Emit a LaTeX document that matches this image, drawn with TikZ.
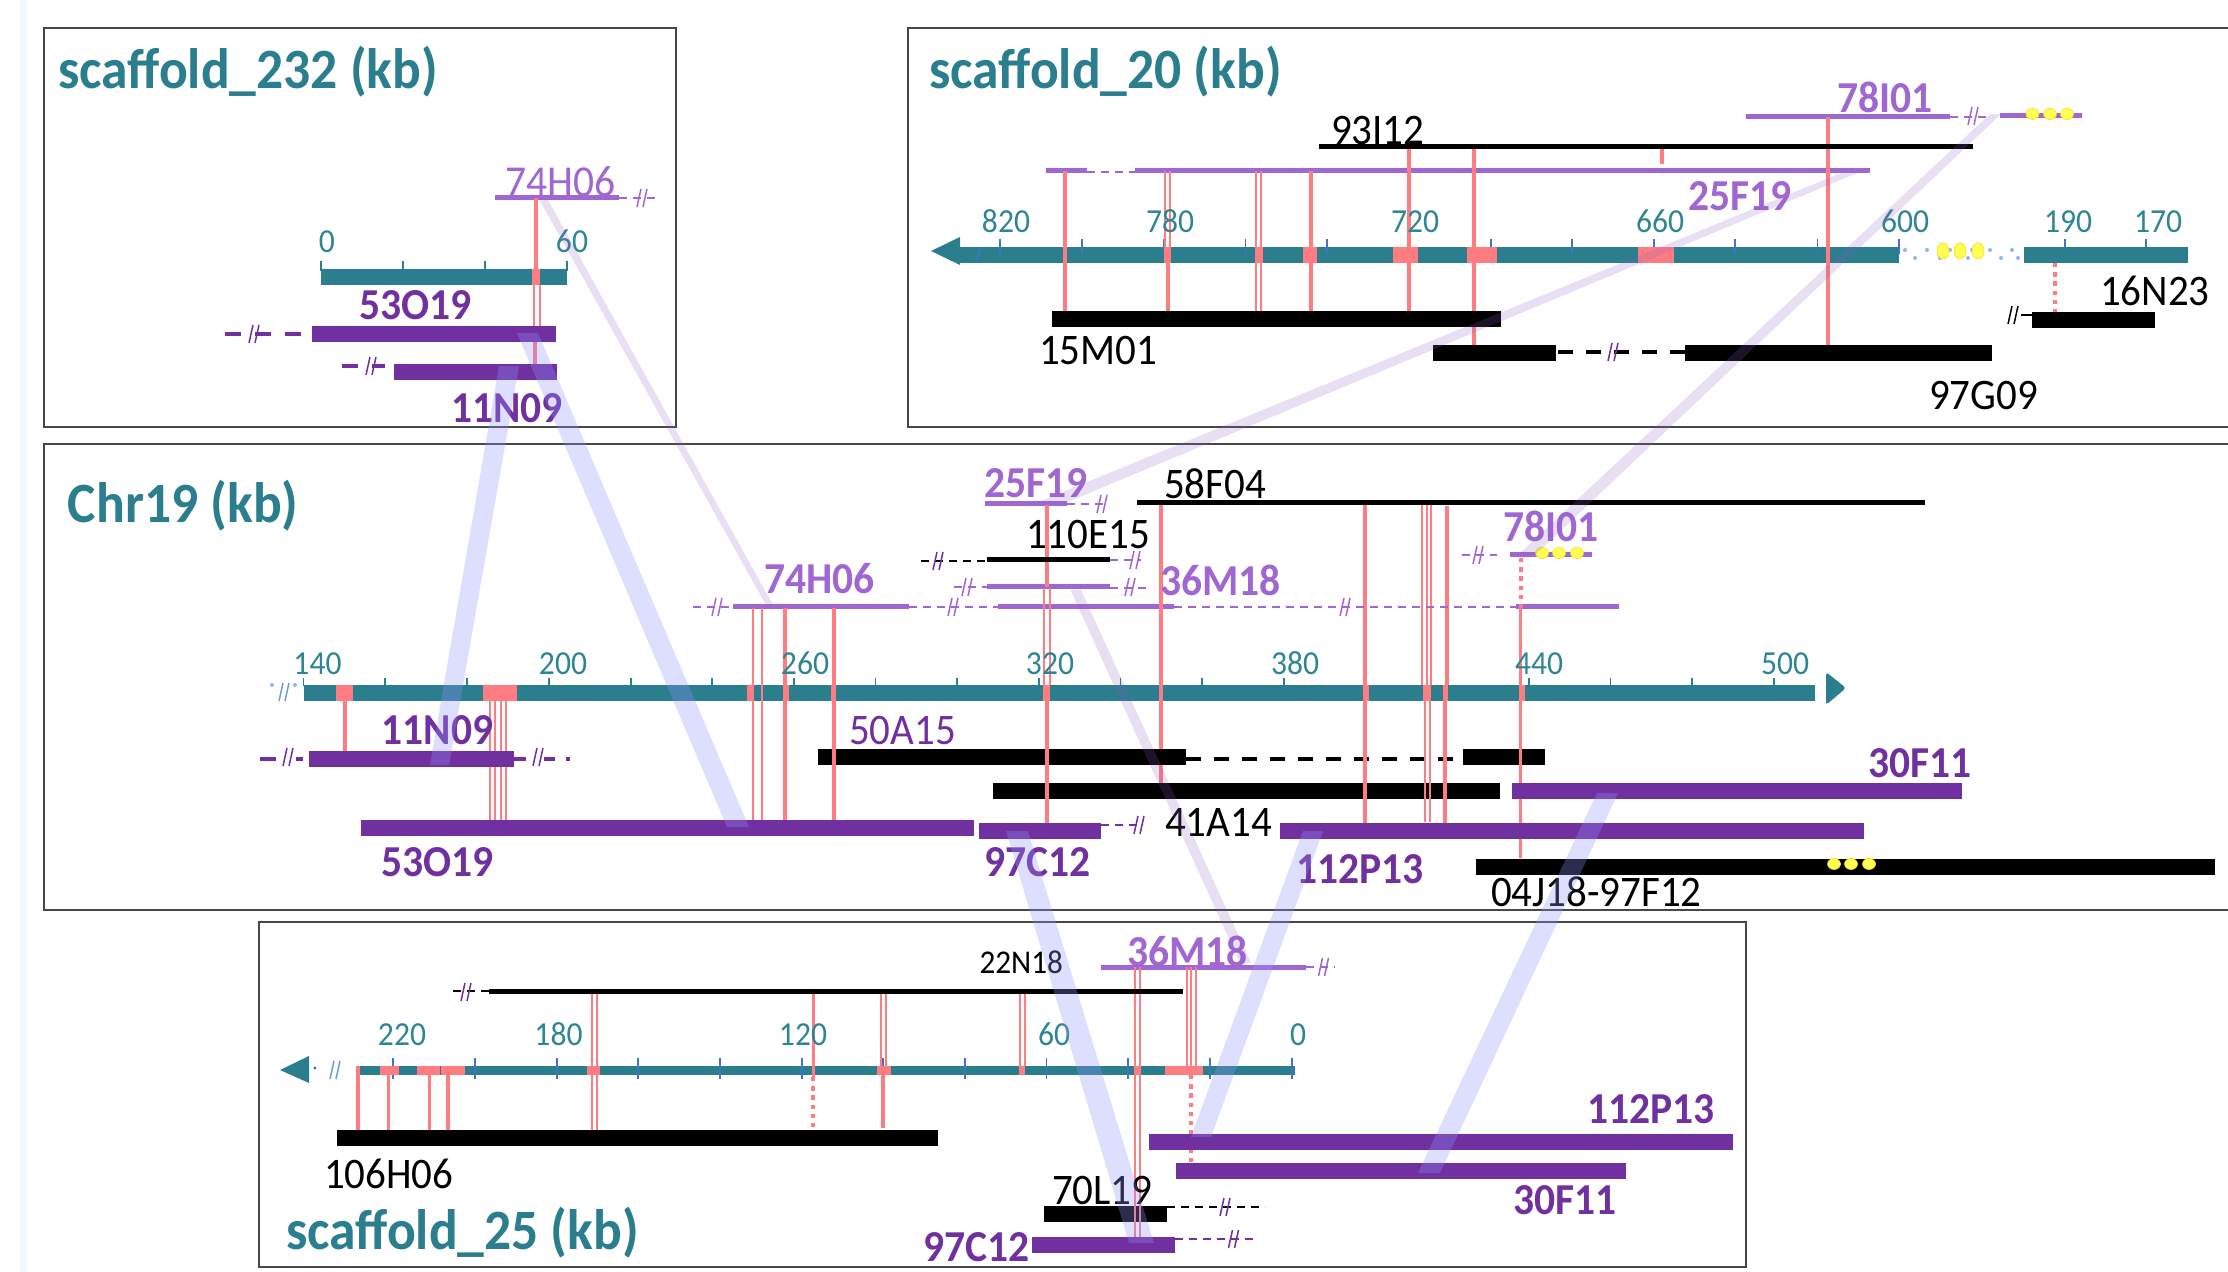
\documentclass[tikz,border=0pt]{standalone}
\usepackage{fontspec}
\setmainfont{Carlito}[FakeStretch=0.94]
\definecolor{teal1}{HTML}{2A7E8E}
\definecolor{tealtxt}{HTML}{2E8593}
\definecolor{redl}{HTML}{FF7C80}
\definecolor{lilac}{HTML}{A066D2}
\definecolor{dpurp}{HTML}{7030A0}
\definecolor{tickb}{HTML}{4472C4}
\definecolor{dotb}{HTML}{8DB8EE}
\definecolor{ribb}{HTML}{9393FF}
\definecolor{ribp}{HTML}{8C5FC3}
\definecolor{yel}{HTML}{FFFF55}
\tikzset{
  x=0.5pt,y=-0.5pt,
  frame/.style={draw=black!72,line width=0.75pt},
  tealbar/.style={fill=teal1},
  blackbar/.style={fill=black},
  purpbar/.style={fill=dpurp},
  redblock/.style={fill=redl},
  redthick/.style={draw=redl,line width=1.9pt},
  redthin/.style={draw=redl,line width=1pt},
  reddot/.style={draw=redl,line width=2pt,dash pattern=on 2.2pt off 2.4pt},
  lilacline/.style={draw=lilac,line width=2.5pt},
  blackline/.style={draw=black,line width=2.5pt},
  lilacdash/.style={draw=lilac,line width=1pt,dash pattern=on 4pt off 3pt},
  purpdash/.style={draw=dpurp,line width=1.1pt,dash pattern=on 4pt off 3pt},
  purpfat/.style={draw=dpurp,line width=2pt,dash pattern=on 8pt off 7pt},
  blackdash/.style={draw=black,line width=1.1pt,dash pattern=on 4pt off 3pt},
  blackfat/.style={draw=black,line width=2pt,dash pattern=on 7.5pt off 6.5pt},
  tealtick/.style={draw=teal1,line width=0.8pt},
  bluetick/.style={draw=tickb,line width=0.8pt},
  yeldot/.style={fill=yel,draw=yellow!80!orange,line width=0.3pt},
  ribbonb/.style={fill=ribb,fill opacity=.3},
  ribbonp/.style={fill=ribp,fill opacity=.2},
  base/.style={inner sep=0pt,outer sep=0pt,anchor=base west,yshift=-1pt},
  title/.style={base,text=teal1,font=\bfseries\fontsize{28.5}{32}\selectfont},
  axisnum/.style={inner sep=0pt,anchor=base,yshift=-.75pt,text=tealtxt,font=\fontsize{16.8}{19}\selectfont},
  blacklab/.style={base,text=black,font=\fontsize{21.8}{25}\selectfont},
  smalllab/.style={base,text=black,font=\fontsize{16.6}{19}\selectfont},
  lilacbold/.style={base,text=lilac,font=\bfseries\fontsize{22.1}{25}\selectfont},
  lilacreg/.style={base,text=lilac,font=\fontsize{22.1}{25}\selectfont},
  purpbold/.style={base,text=dpurp,font=\bfseries\fontsize{22.1}{25}\selectfont},
  purpreg/.style={base,text=dpurp,font=\fontsize{21.8}{25}\selectfont},
}
% break mark: two slanted strokes
\newcommand{\brk}[3]{\draw[#3,line width=.75pt] (#1-5,#2+9)--(#1-1,#2-9) (#1+1,#2+9)--(#1+5,#2-9);}
\newcommand{\ydot}[4]{\draw[yeldot] (#1,#2) ellipse [x radius=#3,y radius=#4];}
\begin{document}
\begin{tikzpicture}
\useasboundingbox (0,0) rectangle (2228,1272);
\fill[white] (0,0) rectangle (2228,1272);
\fill[blue!30!cyan!6] (20,0) rectangle (27,1272);
% frames
\draw[frame] (44,28) rectangle (676,427);
\draw[frame] (2228,28)--(908,28)--(908,427)--(2228,427);
\draw[frame] (2228,444)--(44,444)--(44,910)--(2228,910);
\draw[frame] (259,922) rectangle (1746,1267);

% ---------------- teal axes
\fill[tealbar] (321,269) rectangle (567,285);
\fill[tealbar] (960,247) rectangle (1899,263);
\fill[tealbar] (2024,247) rectangle (2188,263);
\fill[tealbar] (931,251)--(960,237)--(960,265)--cycle;
\fill[tealbar] (303.5,685) rectangle (1815,701);
\fill[tealbar,rounded corners=1.5pt] (1826,672)--(1846,688)--(1826,705)--cycle;
\fill[tealbar] (356,1066) rectangle (1295,1075);
\fill[tealbar] (280,1070)--(309,1056)--(309,1083)--cycle;
% ticks
\foreach \x in {321,403,485,567} {\draw[tealtick] (\x,261)--(\x,271);}
\foreach \x in {1000,1082,1164,1245.5,1327,1409,1491,1572,1654,1735,1817.5,1899} {\draw[bluetick] (\x,239)--(\x,254);}
\foreach \x in {2065,2146} {\draw[bluetick] (\x,239)--(\x,247);}
\foreach \x in {303.5,385,467,549,631,712,794,875.5,957,1039,1120.5,1202,1284,1366,1447,1529,1610.5,1692,1774} {\draw[tealtick] (\x,678)--(\x,686);}
\foreach \x in {393,475,557,638,720,802,883,965,1046.5,1128,1210,1292} {\draw[bluetick] (\x,1058)--(\x,1079);}
\draw[bluetick] (976,262)--(981,247);
% break marks on axes
\brk{284}{692}{dotb!60!tickb}
\fill[dotb] (272,685) circle (1pt) (295,685) circle (1pt);
\brk{335}{1070}{dotb!60!tickb}
\fill[teal1] (315,1068) circle (.8pt);
\foreach \x/\y in {1905/250,1915/258,1927/250,1940/258,1950/250,1968/258,1972/250,1990/250,2001/258,2012/250,2018/258}
  {\fill[dotb] (\x,\y) circle (1pt);}

% ---------------- red blocks
\foreach \a/\b in {532/540} {\fill[redblock] (\a,269) rectangle (\b,285);}
\foreach \a/\b in {1164/1171,1255/1263,1303/1317,1393/1418,1467/1497,1638/1674} {\fill[redblock] (\a,247) rectangle (\b,263);}
\foreach \a/\b in {335.5/352.5,483/517,746.5/754,784/789,831/836,1043/1049.5,1159/1163,1363/1369,1423/1431,1444/1448,1519/1525} {\fill[redblock] (\a,685) rectangle (\b,701);}
\foreach \a/\b in {380/399,416.5/440,441/465,587/599.5,877/891,1019/1024.5,1134/1141,1165/1203} {\fill[redblock] (\a,1066) rectangle (\b,1075);}

% ---------------- thick black bars
\fill[blackbar] (1052,311) rectangle (1501,327);
\fill[blackbar] (1433,345) rectangle (1556,361);
\fill[blackbar] (1685,345) rectangle (1992,361);
\fill[blackbar] (2032,312) rectangle (2155,328);
\fill[blackbar] (818,749) rectangle (1186,765);
\fill[blackbar] (1463,749) rectangle (1545,765);
\fill[blackbar] (993,783) rectangle (1500,799);
\fill[blackbar] (1476,859) rectangle (2215,875);
\fill[blackbar] (337,1130) rectangle (937.5,1146);
\fill[blackbar] (1044,1206) rectangle (1167,1222);
\draw[blackfat] (1558,352)--(1685,352);
\draw[blackfat] (1186,759)--(1454,759);
\draw[black,line width=1pt] (2021,315)--(2032,315);
\brk{2013}{315}{black}
\brk{1613}{352}{dpurp}

% ---------------- lilac lines
\draw[lilacline] (495,198)--(619,198);
\draw[lilacline] (1046,171)--(1087,171);
\draw[lilacline] (1135,171)--(1870,171);
\draw[lilacline] (1746,117)--(1950,117);
\draw[lilacline] (2000,116)--(2082,116);
\draw[lilacline] (985,504)--(1066.5,504);
\draw[lilacline] (987,587)--(1110,587);
\draw[lilacline] (733,607)--(909,607);
\draw[lilacline] (998,607)--(1174,607);
\draw[lilacline] (1516,607)--(1619,607);
\draw[lilacline] (1510,555)--(1592,555);
\draw[lilacline] (1101,967)--(1306,967);

% ---------------- red connectors, scaffold_232
\draw[redthick] (536,198)--(536,270);
\draw[redthin] (534,285)--(534,326) (539.5,285)--(539.5,326);
\draw[redthick] (535,342)--(535,364);
% scaffold_20
\draw[redthick] (1065,171)--(1065,311);
\draw[redthin] (1165,171)--(1165,247) (1170,171)--(1170,247);
\draw[redthick] (1168,263)--(1168,311);
\draw[redthin] (1256,171)--(1256,311) (1261,171)--(1261,311);
\draw[redthick] (1311,171)--(1311,311);
\draw[redthick] (1409,147)--(1409,311);
\draw[redthick] (1474,147)--(1474,311) (1474,327)--(1474,345);
\draw[redthick] (1828,117)--(1828,345);
\draw[redthick] (1662,147)--(1662,164);
\draw[reddot] (2055,263)--(2055,312);
% Chr19
\draw[redthick] (345,701)--(345,751);
\draw[redthin] (490,701)--(490,822) (495,701)--(495,822) (501,701)--(501,822) (506,701)--(506,822);
\draw[redthin] (753,608)--(753,820) (761.5,608)--(761.5,820);
\draw[redthick] (785,608)--(785,820);
\draw[redthick] (834,608)--(834,820);
\draw[redthick] (1047,505)--(1047,587) (1047,701)--(1047,823);
\draw[redthin] (1044,588)--(1044,685) (1050,588)--(1050,685);
\draw[redthick] (1161,505)--(1161,749) (1161,765)--(1161,783);
\draw[redthick] (1365,505)--(1365,823);
\draw[redthin] (1422,503)--(1422,685) (1427,503)--(1427,685) (1431,503)--(1431,685);
\draw[redthin] (1424.5,701)--(1424.5,822) (1429.5,701)--(1429.5,822);
\draw[redthick] (1447,506)--(1447,685) (1445,685)--(1445,823);
\draw[redthick] (1520.5,607)--(1520.5,858);
\draw[reddot] (1520.5,558)--(1520.5,607);
% scaffold_25
\draw[redthick] (358,1066)--(358,1130);
\draw[redthick] (388.4,1075)--(388.4,1130);
\draw[redthick] (429.5,1075)--(429.5,1130);
\draw[redthick] (448,1075)--(448,1130);
\draw[redthin] (592.4,991)--(592.4,1130) (597.3,991)--(597.3,1130);
\draw[redthick] (813.4,991)--(813.4,1077);
\draw[reddot] (813.4,1077)--(813.4,1130);
\draw[redthin] (881,991)--(881,1066) (886,991)--(886,1066);
\draw[redthick] (883,1075)--(883,1128);
\draw[redthin] (1020,991)--(1020,1066) (1024.5,991)--(1024.5,1066);
\draw[redthin] (1135,967)--(1135,1237) (1140,967)--(1140,1237);
\draw[redthin] (1187,967)--(1187,1066) (1191,967)--(1191,1066) (1196,967)--(1196,1066);
\draw[reddot] (1191,1075)--(1191,1163);

% ---------------- thin black lines
\draw[blackline] (1319,147)--(1973,147);
\draw[blackline] (1137,503)--(1925,503);
\draw[blackline] (987,560)--(1110,560);
\draw[blackline] (489,991)--(1183,991);

% ---------------- dark purple bars
\fill[purpbar] (312,326) rectangle (556,342);
\fill[purpbar] (394,364) rectangle (557,380);
\fill[purpbar] (309,751) rectangle (514,767);
\fill[purpbar] (1512,783) rectangle (1962,799);
\fill[purpbar] (361,820) rectangle (974,836);
\fill[purpbar] (979,823) rectangle (1101,839);
\fill[purpbar] (1280,823) rectangle (1864,839);
\fill[purpbar] (1149,1134) rectangle (1733,1150);
\fill[purpbar] (1176,1163) rectangle (1626,1179);
\fill[purpbar] (1032,1237) rectangle (1175,1253);

% ---------------- dashed continuations with break marks
\draw[lilacdash] (619,198)--(659,198); \brk{642}{198}{lilac}
\draw[purpfat] (225,334)--(312,334); \brk{254}{334}{dpurp}
\draw[purpfat] (342,366)--(385,366); \brk{371}{366}{dpurp}
\draw[lilacdash,line width=1.4pt] (1087,172)--(1135,172);
\draw[lilacdash] (1950,117)--(1992,117); \brk{1973}{116}{lilac}
\draw[lilacdash] (1066.5,504)--(1107,504); \brk{1102}{504}{lilac}
\draw[blackdash] (921,561)--(987,561); \brk{938}{561}{dpurp}
\draw[lilacdash] (1110,560)--(1141,560); \brk{1135}{560}{lilac}
\draw[lilacdash] (954,587)--(987,587); \brk{967}{587}{lilac}
\draw[lilacdash] (1110,588)--(1150,588); \brk{1130}{587}{lilac}
\draw[lilacdash] (693,607)--(733,607); \brk{717}{607}{lilac}
\draw[lilacdash] (909,607)--(998,607); \brk{953}{607}{lilac}
\draw[lilacdash] (1174,607)--(1516,607); \brk{1345}{607}{lilac}
\draw[lilacdash] (1462,555)--(1497,555); \brk{1478}{555}{lilac}
\draw[purpfat] (260,759)--(276,759) (296,759)--(303,759); \brk{288}{757}{dpurp}
\draw[purpfat] (514,759)--(526,759) (544,759)--(555,759) (566,759)--(570,759); \brk{538}{757}{dpurp}
\draw[purpdash] (1101,825)--(1143,825); \brk{1139}{825}{dpurp}
\draw[blackdash] (453,991)--(489,991); \brk{466}{992}{dpurp}
\draw[lilacdash] (1306,967)--(1335,967); \brk{1323.5}{967}{lilac}
\draw[blackdash] (1167,1207)--(1265,1207); \brk{1225}{1207}{dpurp}
\draw[purpdash] (1175,1239)--(1256,1239); \brk{1233.5}{1239}{dpurp}

% ---------------- yellow dots
\foreach \x in {2032.5,2050,2067} {\ydot{\x}{114}{6.5}{5.5}}
\foreach \x in {1943,1960,1978} {\ydot{\x}{251}{6}{8}}
\foreach \x in {1542,1559,1577} {\ydot{\x}{553}{6.5}{5.5}}
\foreach \x in {1834,1851,1869} {\ydot{\x}{864}{6.5}{5.5}}

% ---------------- titles
\node[title] (t232) at (58,87) {scaffold\_232 (kb)};
\node[title] (t20) at (929,87) {scaffold\_20 (kb)};
\node[title] (tchr) at (68,521) {Chr19 (kb)};
\node[title] (t25) at (286,1247) {scaffold\_25 (kb)};

% ---------------- axis numbers
\node[axisnum] (a0) at (327,251) {0};
\node[axisnum] (a60) at (572,251) {60};
\node[axisnum] (b820) at (1006,231) {820};
\node[axisnum] (b780) at (1170,231) {780};
\node[axisnum] (b720) at (1415,231) {720};
\node[axisnum] (b660) at (1660,231) {660};
\node[axisnum] (b600) at (1905,231) {600};
\node[axisnum] (b190) at (2068,231) {190};
\node[axisnum] (b170) at (2158,231) {170};
\node[axisnum] (c140) at (317.5,673) {140};
\node[axisnum] (c200) at (563,673) {200};
\node[axisnum] (c260) at (805,673) {260};
\node[axisnum] (c320) at (1050,673) {320};
\node[axisnum] (c380) at (1295,673) {380};
\node[axisnum] (c440) at (1539,673) {440};
\node[axisnum] (c500) at (1785,673) {500};
\node[axisnum] (d220) at (402,1044) {220};
\node[axisnum] (d180) at (558.5,1044) {180};
\node[axisnum] (d120) at (803,1044) {120};
\node[axisnum] (d60) at (1054,1044) {60};
\node[axisnum] (d0) at (1298,1044) {0};

% ---------------- clone labels
\node[lilacreg] (l1) at (505,195) {74H06};
\node[purpbold] (l2) at (359,318) {53O19};
\node[purpbold] (l3) at (451,421) {11N09};
\node[blacklab] (l4) at (1331,143) {93I12};
\node[lilacbold] (l5) at (1837,111) {78I01};
\node[lilacbold] (l6) at (1688,209) {25F19};
\node[blacklab] (l7) at (1039,363) {15M01};
\node[blacklab] (l8) at (1929,408) {97G09};
\node[blacklab] (l9) at (2100,304) {16N23};
\node[lilacbold] (l10) at (984,496) {25F19};
\node[blacklab] (l11) at (1164,497) {58F04};
\node[blacklab] (l12) at (1026,547) {110E15};
\node[lilacbold] (l13) at (1160,594) {36M18};
\node[lilacbold] (l14) at (764.5,592) {74H06};
\node[lilacbold] (l15) at (1503.6,540) {78I01};
\node[purpbold] (l16) at (381.5,742) {11N09};
\node[purpreg] (l17) at (849,742) {50A15};
\node[blacklab] (l18) at (1165,834) {41A14};
\node[purpbold] (l19) at (1868,775) {30F11};
\node[purpbold] (l20) at (381.5,874) {53O19};
\node[purpbold] (l21) at (984,874) {97C12};
\node[purpbold] (l22) at (1296,881) {112P13};
\node[blacklab] (l23) at (1491,904) {04J18-97F12};
\node[smalllab] (l24) at (979.5,971) {22N18};
\node[lilacbold] (l25) at (1127,964) {36M18};
\node[blacklab] (l26) at (324,1186) {106H06};
\node[purpbold] (l27) at (1587,1121) {112P13};
\node[purpbold] (l28) at (1513,1212) {30F11};
\node[blacklab] (l29) at (1052,1202) {70L19};
\node[purpbold] (l30) at (923,1259) {97C12};

% ---------------- translucent ribbons
\fill[ribbonb] (499,366)--(519,366)--(449,765)--(430,765)--cycle;
\fill[ribbonb] (517,333)--(538,333)--(749,827)--(727,827)--cycle;
\fill[ribbonb] (1006,831)--(1028,831)--(1154,1243)--(1129,1243)--cycle;
\fill[ribbonb] (1303,831)--(1323,831)--(1211,1137)--(1191,1137)--cycle;
\fill[ribbonb] (1597,793)--(1618,793)--(1440,1173)--(1418,1173)--cycle;
\fill[ribbonp] (539.5,200)--(548,200)--(773,605)--(766,605)--cycle;
\fill[ribbonp] (1841,173)--(1857,173)--(1065,503)--(1036,503)--cycle;
\fill[ribbonp] (1990,114)--(2001,114)--(1535,555)--(1518,555)--cycle;
\fill[ribbonp] (1070.5,590)--(1081,590)--(1251,963)--(1240,963)--cycle;
\end{tikzpicture}
\end{document}
